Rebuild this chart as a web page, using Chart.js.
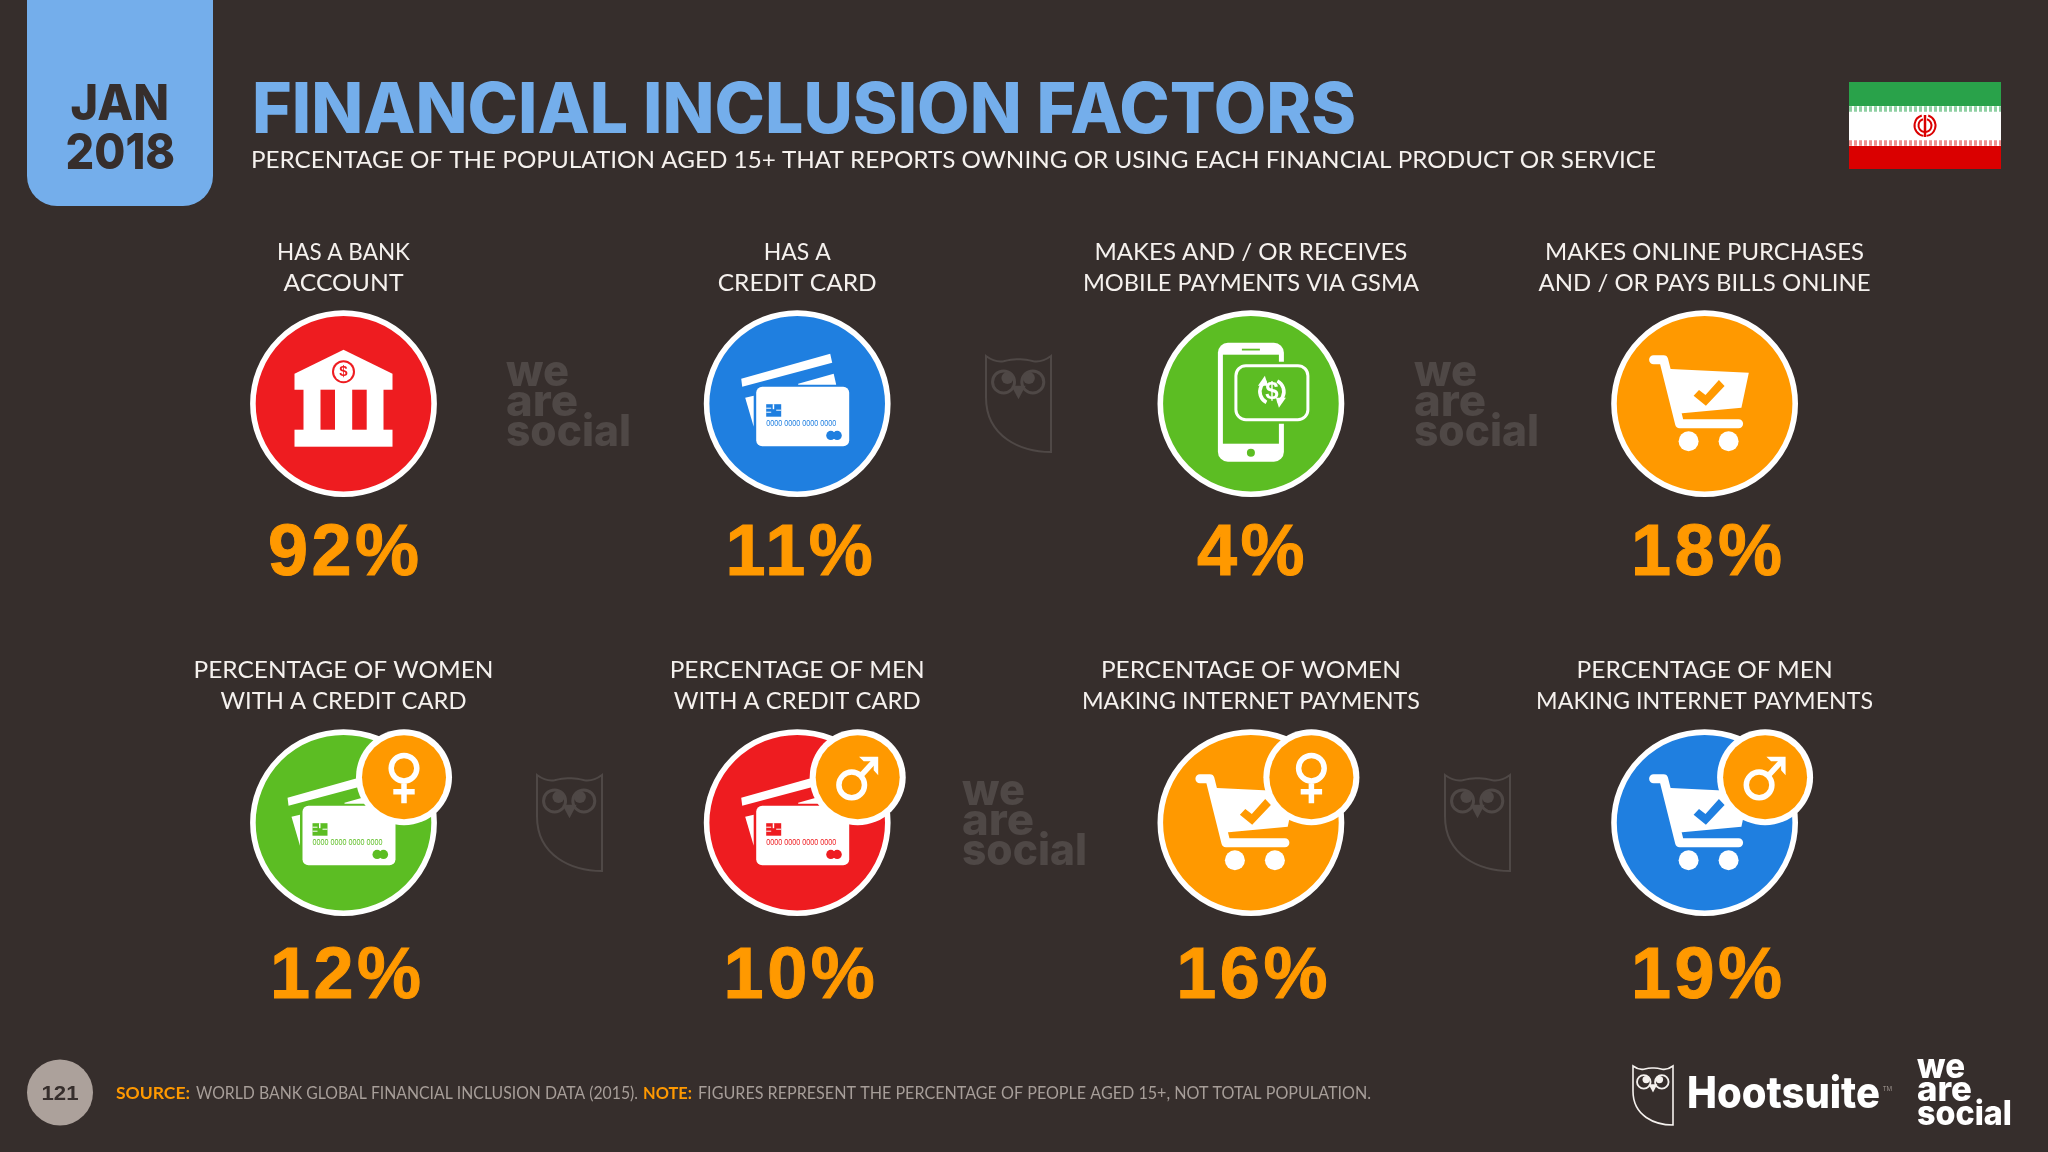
<!DOCTYPE html>
<html lang="en">
	<head>
		<meta charset="UTF-8" />
		<title>Financial Inclusion Factors</title>
		<script src="https://cdn.jsdelivr.net/npm/chart.js@4.1.2/dist/chart.umd.min.js"></script>
		<style>
			html, body { margin: 0; padding: 0; background: #362e2c; }
			canvas { display: block; }
		</style>
	</head>
	<body>
		<canvas id="chart" width="2048" height="1152"></canvas>
		<script>
			// values and labels
			const categories = [
				"HAS A BANK\nACCOUNT",
				"HAS A\nCREDIT CARD",
				"MAKES AND / OR RECEIVES\nMOBILE PAYMENTS VIA GSMA",
				"MAKES ONLINE PURCHASES\nAND / OR PAYS BILLS ONLINE",
				"PERCENTAGE OF WOMEN\nWITH A CREDIT CARD",
				"PERCENTAGE OF MEN\nWITH A CREDIT CARD",
				"PERCENTAGE OF WOMEN\nMAKING INTERNET PAYMENTS",
				"PERCENTAGE OF MEN\nMAKING INTERNET PAYMENTS",
			];
			const values = [92, 11, 4, 18, 12, 10, 16, 19];
			const icons = ["bank", "card", "phone", "cart", "card", "card", "cart", "cart"];
			const badges = [null, null, null, null, "female", "male", "female", "male"];

			const RED = "#ee1c20";
			const BLUE = "#1f7fe0";
			const GREEN = "#5cbd23";
			const ORANGE = "#ff9900";
			const BG = "#362e2c";
			const SKY = "#74aeeb";
			const WATERMARK = "#4f4846";
			const circleColors = [RED, BLUE, GREEN, ORANGE, GREEN, RED, ORANGE, BLUE];

			// grid of the slide, in pixels
			const COL0 = 343.5, COL_STEP = 453.7;
			const ROW0 = 403.7, ROW_STEP = 419;
			const pctShift = [0, 2, 0, 2, 2, 2, 1, 2];
			// width of each label line on the slide
			const labelWidths = [
				[133, 120], [67, 159], [313, 336], [319, 332],
				[300, 246], [255, 247], [300, 338], [256, 337],
			];

			function poly(ctx, pts) {
				ctx.beginPath();
				pts.forEach((p, i) => (i ? ctx.lineTo(p[0], p[1]) : ctx.moveTo(p[0], p[1])));
				ctx.closePath();
				ctx.fill();
			}
			function disc(ctx, x, y, r) {
				ctx.beginPath();
				ctx.arc(x, y, r, 0, Math.PI * 2);
				ctx.fill();
			}
			function rrect(ctx, x, y, w, h, r) {
				ctx.beginPath();
				ctx.roundRect(x, y, w, h, r);
			}
			// squeezes a text to the width it has on the slide
			function fitText(ctx, text, x, y, width) {
				ctx.save();
				ctx.textAlign = "left";
				ctx.translate(x, y);
				ctx.scale(width / ctx.measureText(text).width, 1);
				ctx.fillText(text, 0, 0);
				ctx.restore();
			}

			function drawBank(ctx, bg) {
				ctx.fillStyle = "#fff";
				poly(ctx, [[0, -54], [49, -30], [49, -14], [-49, -14], [-49, -30]]);
				ctx.fillRect(-40, -15, 80, 42);
				ctx.fillRect(-49, 26, 98, 17);
				ctx.fillStyle = bg;
				ctx.fillRect(-23, -14, 14.5, 40);
				ctx.fillRect(8.7, -14, 14.5, 40);
				disc(ctx, 0, -32, 11.5);
				ctx.fillStyle = "#fff";
				disc(ctx, 0, -32, 9.5);
				ctx.fillStyle = bg;
				ctx.font = "bold 15px 'Liberation Sans'";
				ctx.textAlign = "center";
				ctx.textBaseline = "middle";
				ctx.fillText("$", 0, -31.5);
			}

			function drawCard(ctx, bg) {
				ctx.fillStyle = "#fff";
				poly(ctx, [[-56, -25], [33, -50], [35, -41], [-55, -17]]);
				poly(ctx, [[1, -20], [36.5, -30], [39, -19], [1, -19]]);
				poly(ctx, [[-52, -6], [-43.5, -8], [-43.5, 23]]);
				rrect(ctx, -41, -17, 93, 59.5, 6);
				ctx.fill();
				ctx.fillStyle = bg;
				ctx.fillRect(-31, 0.5, 15, 12.5);
				ctx.fillStyle = "#fff";
				ctx.fillRect(-24.5, 0.5, 1.5, 5);
				ctx.fillRect(-31, 4, 5, 1);
				ctx.fillRect(-31, 8, 5, 1);
				ctx.fillRect(-21, 6, 5, 1);
				ctx.fillStyle = bg;
				ctx.font = "9.2px 'Liberation Sans'";
				ctx.textAlign = "left";
				ctx.textBaseline = "middle";
				fitText(ctx, "0000 0000 0000 0000", -31, 20, 70);
				disc(ctx, 33.6, 31.7, 4.6);
				disc(ctx, 40, 31.7, 4.6);
			}

			function drawPhone(ctx, bg) {
				ctx.fillStyle = "#fff";
				rrect(ctx, -33, -61, 66, 119, 10);
				ctx.fill();
				ctx.fillStyle = bg;
				ctx.fillRect(-28, -49, 56, 89);
				ctx.fillRect(-9, -55, 18, 1.8);
				disc(ctx, 0, 49, 4);
				// the bank note over the phone
				rrect(ctx, -15, -38, 72, 54, 10);
				ctx.lineWidth = 8;
				ctx.strokeStyle = bg;
				ctx.stroke();
				ctx.fill();
				ctx.lineWidth = 3;
				ctx.strokeStyle = "#fff";
				ctx.stroke();
				ctx.lineWidth = 3.6;
				ctx.beginPath();
				ctx.arc(21, -12, 12, Math.PI * 0.65, Math.PI * 1.35);
				ctx.stroke();
				ctx.beginPath();
				ctx.arc(21, -12, 12, -Math.PI * 0.35, Math.PI * 0.35);
				ctx.stroke();
				ctx.fillStyle = "#fff";
				poly(ctx, [[14, -28], [7, -18], [17, -18]]);
				poly(ctx, [[28, 4], [35, -6], [25, -6]]);
				ctx.font = "bold 24px 'Liberation Sans'";
				ctx.textAlign = "center";
				ctx.textBaseline = "middle";
				ctx.fillText("$", 21, -11);
			}

			function drawCart(ctx, bg) {
				ctx.fillStyle = "#fff";
				ctx.strokeStyle = "#fff";
				ctx.lineCap = "round";
				ctx.lineJoin = "round";
				ctx.lineWidth = 9;
				ctx.beginPath();
				ctx.moveTo(-51, -44);
				ctx.lineTo(-41, -44);
				ctx.lineTo(-25, 20);
				ctx.lineTo(34, 20);
				ctx.stroke();
				ctx.lineJoin = "miter";
				ctx.lineWidth = 2;
				poly(ctx, [[-39, -34], [43, -30], [36, 3], [-27, 9]]);
				ctx.stroke();
				disc(ctx, -16, 37.5, 10);
				disc(ctx, 24, 37.5, 10);
				ctx.fillStyle = bg;
				poly(ctx, [[-11, -8], [-5.6, -13.7], [0.9, -8.7], [14.3, -23.7], [20, -17.7], [1.3, 2]]);
			}

			function drawBadge(ctx, kind) {
				ctx.fillStyle = "#fff";
				disc(ctx, 0, 0, 48);
				ctx.fillStyle = ORANGE;
				disc(ctx, 0, 0, 42);
				ctx.strokeStyle = "#fff";
				ctx.lineCap = "butt";
				ctx.lineJoin = "miter";
				ctx.lineWidth = 5.5;
				ctx.beginPath();
				if (kind === "female") {
					ctx.arc(0, -9, 12.8, 0, Math.PI * 2);
					ctx.moveTo(0, 4);
					ctx.lineTo(0, 26);
					ctx.moveTo(-10.7, 14.5);
					ctx.lineTo(10.7, 14.5);
					ctx.stroke();
				} else {
					ctx.arc(-6, 7.7, 12.8, 0, Math.PI * 2);
					ctx.moveTo(3, -1.3);
					ctx.lineTo(18, -17.5);
					ctx.stroke();
					ctx.fillStyle = "#fff";
					poly(ctx, [[1.3, -20.5], [20.5, -20.5], [20.5, -2], [16, -7], [16, -16], [6, -16]]);
				}
			}

			const iconDrawers = { bank: drawBank, card: drawCard, phone: drawPhone, cart: drawCart };

			function drawOwl(ctx, x, y, w, h, color, lineWidth) {
				const k = w / 65;
				ctx.save();
				ctx.translate(x, y);
				ctx.strokeStyle = color;
				ctx.fillStyle = color;
				ctx.lineWidth = lineWidth;
				ctx.beginPath();
				ctx.moveTo(0, 0);
				ctx.quadraticCurveTo(w * 0.14, h * 0.07, w * 0.27, h * 0.055);
				ctx.quadraticCurveTo(w * 0.42, h * 0.03, w * 0.5, h * 0.035);
				ctx.quadraticCurveTo(w * 0.58, h * 0.03, w * 0.73, h * 0.055);
				ctx.quadraticCurveTo(w * 0.86, h * 0.07, w, 0);
				ctx.lineTo(w, h);
				ctx.bezierCurveTo(w * 0.55, h * 1, 0, h * 0.85, 0, h * 0.43);
				ctx.closePath();
				ctx.stroke();
				ctx.lineWidth = 3 * k;
				ctx.beginPath();
				ctx.arc(w * 0.27, h * 0.27, 11 * k, 0, Math.PI * 2);
				ctx.stroke();
				ctx.beginPath();
				ctx.arc(w * 0.72, h * 0.27, 11 * k, 0, Math.PI * 2);
				ctx.stroke();
				disc(ctx, w * 0.33, h * 0.23, 6 * k);
				disc(ctx, w * 0.66, h * 0.23, 6 * k);
				poly(ctx, [[w * 0.39, h * 0.31], [w * 0.61, h * 0.31], [w * 0.5, h * 0.45]]);
				ctx.restore();
			}

			function drawWeAreSocial(ctx, x, base, color, size, lineGap, widths) {
				ctx.fillStyle = color;
				ctx.font = "800 " + size + "px Inter";
				ctx.textBaseline = "alphabetic";
				fitText(ctx, "we", x, base - lineGap * 2, widths[0]);
				fitText(ctx, "are", x, base - lineGap, widths[1]);
				fitText(ctx, "social", x, base, widths[2]);
			}

			function drawFlag(ctx) {
				ctx.fillStyle = "#fff";
				ctx.fillRect(1849, 82, 152, 87);
				ctx.fillStyle = "#29a24a";
				ctx.fillRect(1849, 82, 152, 24);
				ctx.fillStyle = "#da0000";
				ctx.fillRect(1849, 146, 152, 23);
				ctx.lineWidth = 5.5;
				ctx.setLineDash([3, 2]);
				ctx.strokeStyle = "#8fd0a3";
				ctx.beginPath();
				ctx.moveTo(1849, 109);
				ctx.lineTo(2001, 109);
				ctx.stroke();
				ctx.strokeStyle = "#ef8f8f";
				ctx.beginPath();
				ctx.moveTo(1849, 143);
				ctx.lineTo(2001, 143);
				ctx.stroke();
				ctx.setLineDash([]);
				ctx.strokeStyle = "#da0000";
				ctx.lineWidth = 2;
				[10.5, 6.5].forEach((r) => {
					ctx.beginPath();
					ctx.arc(1925, 125.5, r, -Math.PI * 0.4, Math.PI * 0.45);
					ctx.stroke();
					ctx.beginPath();
					ctx.arc(1925, 125.5, r, Math.PI * 0.55, Math.PI * 1.4);
					ctx.stroke();
				});
				ctx.lineWidth = 2.5;
				ctx.beginPath();
				ctx.moveTo(1925, 115);
				ctx.lineTo(1925, 137);
				ctx.stroke();
			}

			const slideBackground = {
				id: "slideBackground",
				beforeDraw(chart) {
					const ctx = chart.ctx;
					ctx.save();
					ctx.fillStyle = BG;
					ctx.fillRect(0, 0, 2048, 1152);

					// date tab
					ctx.fillStyle = SKY;
					ctx.beginPath();
					ctx.roundRect(27, -30, 186, 236, 30);
					ctx.fill();
					ctx.fillStyle = BG;
					ctx.textAlign = "center";
					ctx.textBaseline = "alphabetic";
					ctx.font = "800 50px Inter";
					fitText(ctx, "JAN", 70.5, 119.5, 98.5);
					fitText(ctx, "2018", 65.6, 168.5, 109.5);

					// title
					ctx.fillStyle = SKY;
					ctx.font = "800 70px Inter";
					fitText(ctx, "FINANCIAL INCLUSION FACTORS", 252, 133, 1104);
					ctx.fillStyle = "#f5f1ee";
					ctx.font = "24px Lato";
					fitText(ctx, "PERCENTAGE OF THE POPULATION AGED 15+ THAT REPORTS OWNING OR USING EACH FINANCIAL PRODUCT OR SERVICE", 251, 167.7, 1405);

					drawFlag(ctx);

					// watermarks
					drawWeAreSocial(ctx, 506, 445.7, WATERMARK, 44, 30, [63, 72, 125]);
					drawWeAreSocial(ctx, 1414, 445.7, WATERMARK, 44, 30, [63, 72, 125]);
					drawWeAreSocial(ctx, 962, 865, WATERMARK, 44, 30, [63, 72, 125]);
					drawOwl(ctx, 986, 356, 65, 96, WATERMARK, 2);
					drawOwl(ctx, 537, 775, 65, 96, WATERMARK, 2);
					drawOwl(ctx, 1445, 775, 65, 96, WATERMARK, 2);

					// footer
					ctx.fillStyle = "#aca19b";
					disc(ctx, 60, 1092.5, 33);
					ctx.fillStyle = BG;
					ctx.font = "bold 20px 'Liberation Sans'";
					fitText(ctx, "121", 41.5, 1099.5, 37);
					ctx.font = "bold 17px Lato";
					ctx.fillStyle = ORANGE;
					fitText(ctx, "SOURCE:", 116, 1099, 74);
					fitText(ctx, "NOTE:", 643, 1099, 49);
					ctx.font = "17px Lato";
					ctx.fillStyle = "#a79e99";
					fitText(ctx, "WORLD BANK GLOBAL FINANCIAL INCLUSION DATA (2015).", 196, 1099, 442);
					fitText(ctx, "FIGURES REPRESENT THE PERCENTAGE OF PEOPLE AGED 15+, NOT TOTAL POPULATION.", 698, 1099, 673);

					// logos
					drawOwl(ctx, 1633, 1066, 40, 59, "#f5f1ee", 1.6);
					ctx.fillStyle = "#fff";
					ctx.font = "800 44px Inter";
					fitText(ctx, "Hootsuite", 1687, 1108, 193);
					ctx.font = "8px 'Open Sans'";
					ctx.fillStyle = "#a79e99";
					fitText(ctx, "TM", 1883, 1091, 9);
					drawWeAreSocial(ctx, 1917, 1124.5, "#fff", 34, 23.5, [48, 55, 95]);
					ctx.restore();
				},
			};

			const tileContent = {
				id: "tileContent",
				afterDatasetsDraw(chart) {
					const ctx = chart.ctx;
					const points = chart.getDatasetMeta(0).data;
					points.forEach((pt, i) => {
						ctx.save();
						ctx.translate(pt.x, pt.y);
						iconDrawers[icons[i]](ctx, circleColors[i]);
						ctx.restore();
						if (badges[i]) {
							ctx.save();
							ctx.translate(pt.x + 60.5, pt.y - 45.5);
							drawBadge(ctx, badges[i]);
							ctx.restore();
						}

						ctx.save();
						ctx.textBaseline = "alphabetic";
						ctx.fillStyle = "#f5f1ee";
						ctx.font = "24px Lato";
						categories[i].split("\n").forEach((line, n) => {
							const w = labelWidths[i][n];
							fitText(ctx, line, pt.x - w / 2, pt.y - 144.2 - (i < 4 ? 0 : 1) + n * 31.5, w);
						});
						ctx.textAlign = "center";
						ctx.fillStyle = ORANGE;
						ctx.strokeStyle = ORANGE;
						ctx.lineWidth = 1;
						ctx.font = "bold 72px 'Liberation Sans'";
						ctx.letterSpacing = "3.5px";
						const label = values[i] + "%";
						const px = pt.x + pctShift[i] + 1.7;
						const py = pt.y + (i < 4 ? 171.3 : 175);
						ctx.fillText(label, px, py);
						ctx.strokeText(label, px, py);
						ctx.restore();
					});
				},
			};

			new Chart(document.getElementById("chart"), {
				type: "scatter",
				data: {
					labels: categories,
					datasets: [
						{
							data: values.map((v, i) => ({ x: i % 4, y: Math.floor(i / 4) })),
							pointRadius: 90.6,
							pointHoverRadius: 90.6,
							pointBackgroundColor: circleColors,
							pointBorderColor: "#ffffff",
							pointBorderWidth: 5.6,
							clip: false,
						},
					],
				},
				options: {
					responsive: false,
					devicePixelRatio: 1,
					animation: false,
					events: [],
					layout: { padding: 0, autoPadding: false },
					scales: {
						x: { type: "linear", display: false, min: -COL0 / COL_STEP, max: (2048 - COL0) / COL_STEP },
						y: { type: "linear", display: false, reverse: true, min: -ROW0 / ROW_STEP, max: (1152 - ROW0) / ROW_STEP },
					},
					plugins: { legend: { display: false }, tooltip: { enabled: false } },
				},
				plugins: [slideBackground, tileContent],
			});
		</script>
	</body>
</html>
